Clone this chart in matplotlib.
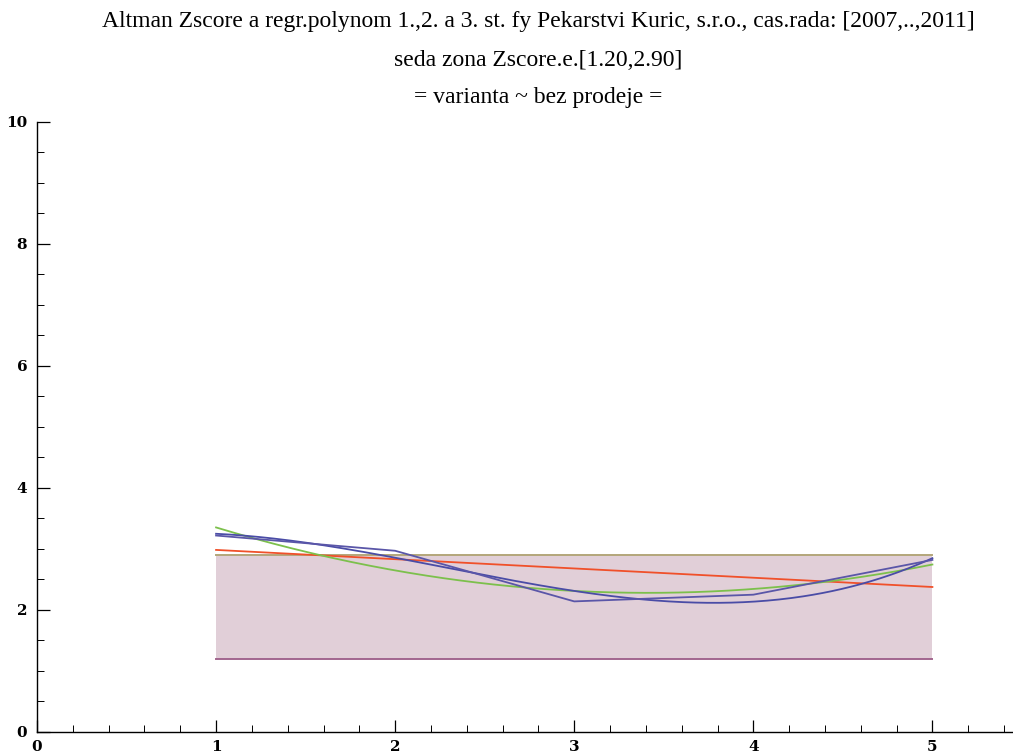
import numpy as np
import matplotlib
matplotlib.use("Agg")
import matplotlib.pyplot as plt
from matplotlib.ticker import MultipleLocator

# Altman Z-score time series (periods 1..5 = 2007..2011)
periods = [1, 2, 3, 4, 5]
zscore = [3.22, 2.97, 2.14, 2.25, 2.82]

# grey zone bounds
zone_low = 1.20
zone_high = 2.90

title_lines = [
    "Altman Zscore a regr.polynom 1.,2. a 3. st. fy Pekarstvi Kuric, s.r.o., cas.rada: [2007,..,2011]",
    "seda zona Zscore.e.[1.20,2.90]",
    "= varianta ~ bez prodeje =",
]

fig = plt.figure(figsize=(10.13, 7.53), dpi=100)
ax = fig.add_axes([0.0365, 0.028, 0.9635, 0.81])

x = np.array(periods, dtype=float)
y = np.array(zscore, dtype=float)
xs = np.linspace(x.min(), x.max(), 300)

# grey zone band
ax.fill_between([x.min(), x.max()], zone_low, zone_high, color="#e1cfd8", lw=0, zorder=1)
ax.plot([x.min(), x.max()], [zone_high, zone_high], color="#b3a67a", lw=1.4, zorder=2)
ax.plot([x.min(), x.max()], [zone_low, zone_low], color="#a2668e", lw=1.4, zorder=2)

# regression polynomials of degree 1, 2, 3
fit_colors = {1: "#f0502a", 2: "#7cc04c", 3: "#4a4ca6"}
for deg in (1, 2, 3):
    coef = np.polyfit(x, y, deg)
    ax.plot(xs, np.polyval(coef, xs), color=fit_colors[deg], lw=1.3, zorder=3)

# observed values
ax.plot(x, y, color="#5a56a8", lw=1.3, zorder=4)

ax.set_xlim(0, 5.45)
ax.set_ylim(0, 10)
for s in ("top", "right"):
    ax.spines[s].set_visible(False)
for s in ("left", "bottom"):
    ax.spines[s].set_linewidth(1.0)

ax.xaxis.set_major_locator(MultipleLocator(1))
ax.xaxis.set_minor_locator(MultipleLocator(0.2))
ax.yaxis.set_major_locator(MultipleLocator(2))
ax.yaxis.set_minor_locator(MultipleLocator(0.5))
ax.tick_params(which="major", direction="in", length=9, width=0.9)
ax.tick_params(which="minor", direction="in", length=5, width=0.7)
ax.tick_params(axis="x", which="major", pad=6)
ax.tick_params(axis="y", which="major", pad=7)

for lab in ax.get_xticklabels() + ax.get_yticklabels():
    lab.set_fontfamily("DejaVu Serif")
    lab.set_fontweight("bold")
    lab.set_fontsize(11)

for i, t in enumerate(title_lines):
    fig.text(0.531, 1 - (22 + 38 * i) / 753, t, ha="center", va="center",
             family="Liberation Serif", fontsize=17)

fig.savefig("out.png", dpi=100)
